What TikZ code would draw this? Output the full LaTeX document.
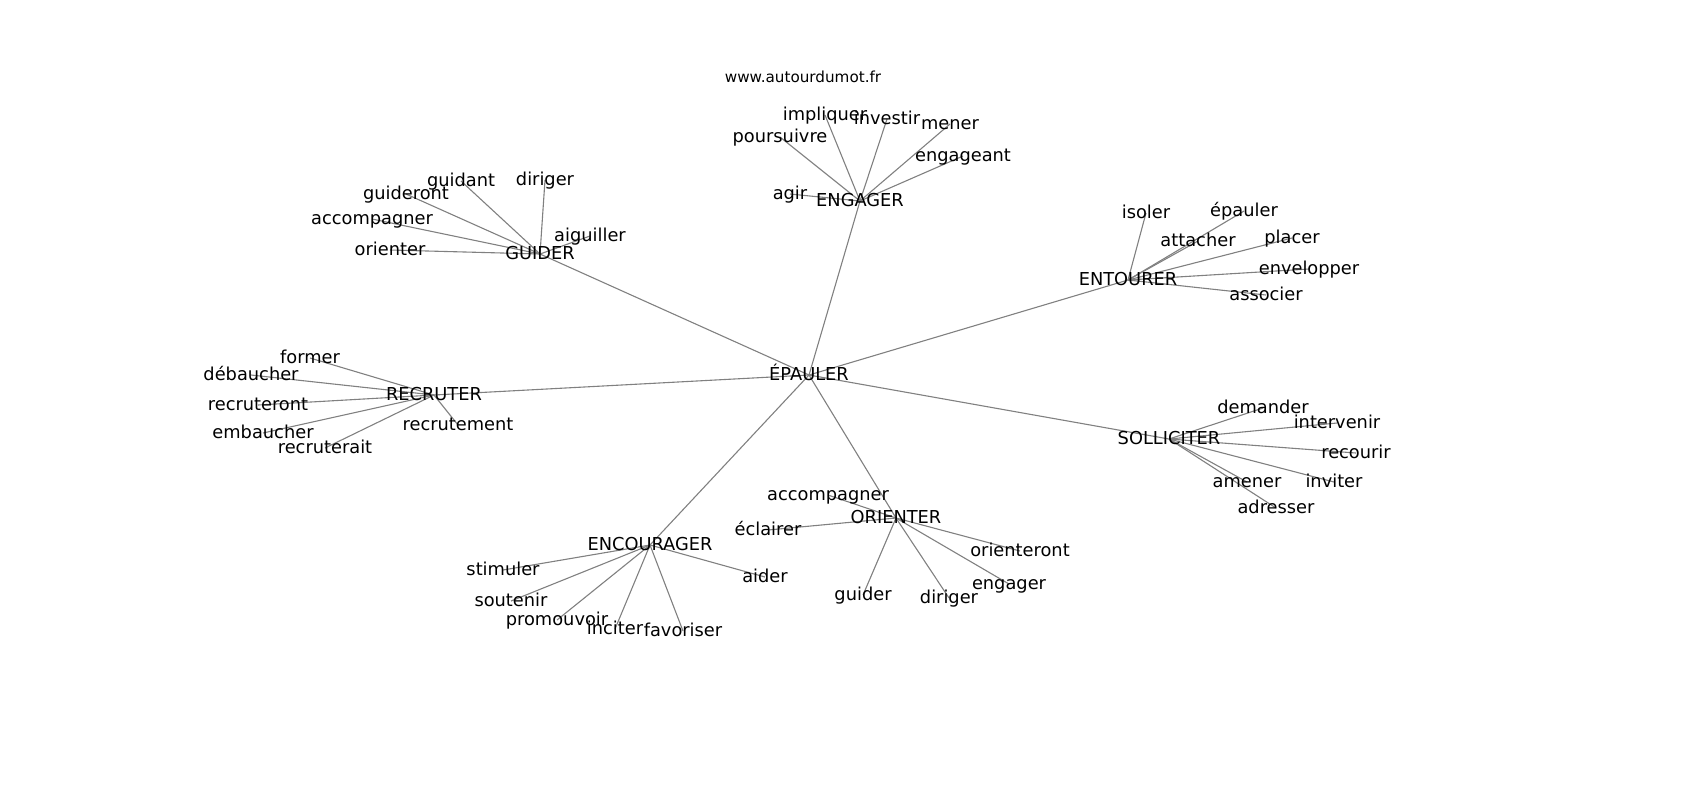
\documentclass[tikz,border=0pt]{standalone}
\usepackage{fontspec}
\setmainfont{DejaVu Sans}
\begin{document}
\begin{tikzpicture}[x=0.5pt,y=-0.5pt,
  lbl/.style={inner sep=0pt,anchor=center,text height=0.76em,text depth=0.24em,font=\fontsize{8.9pt}{10.5pt}\selectfont},
  edge/.style={draw=gray,line width=0.55pt}]
\useasboundingbox (0,0) rectangle (1700,800);
% coordinates of nodes
\coordinate (E) at (809,375);
\coordinate (ENG) at (860,201);
\coordinate (GUI) at (540,254);
\coordinate (ENT) at (1128,280);
\coordinate (REC) at (434,395);
\coordinate (SOL) at (1169,439);
\coordinate (ORI) at (896,518);
\coordinate (ENC) at (650,545);
% ENGAGER leaves
\coordinate (agir) at (790,194);
\coordinate (poursuivre) at (780,137);
\coordinate (impliquer) at (825,115);
\coordinate (investir) at (887,119);
\coordinate (mener) at (950,124);
\coordinate (engageant) at (963,156);
% GUIDER leaves
\coordinate (guidant) at (461,181);
\coordinate (dirigerG) at (545,180);
\coordinate (guideront) at (406,194);
\coordinate (accompagnerG) at (372,219);
\coordinate (orienterG) at (390,250);
\coordinate (aiguiller) at (590,236);
% ENTOURER leaves
\coordinate (isoler) at (1146,213);
\coordinate (epauler) at (1244,211);
\coordinate (attacher) at (1198,241);
\coordinate (placer) at (1292,238);
\coordinate (envelopper) at (1309,269);
\coordinate (associer) at (1266,295);
% RECRUTER leaves
\coordinate (former) at (310,358);
\coordinate (debaucher) at (251,375);
\coordinate (recruteront) at (258,405);
\coordinate (embaucher) at (263,433);
\coordinate (recruterait) at (325,448);
\coordinate (recrutement) at (458,425);
% SOLLICITER leaves
\coordinate (demander) at (1263,408);
\coordinate (intervenir) at (1337,423);
\coordinate (recourir) at (1356,453);
\coordinate (inviter) at (1334,482);
\coordinate (amener) at (1247,482);
\coordinate (adresser) at (1276,508);
% ORIENTER leaves
\coordinate (accompagnerO) at (828,495);
\coordinate (eclairer) at (768,530);
\coordinate (orienteront) at (1020,551);
\coordinate (engager) at (1009,584);
\coordinate (dirigerO) at (949,598);
\coordinate (guiderO) at (863,595);
% ENCOURAGER leaves
\coordinate (stimuler) at (503,570);
\coordinate (soutenir) at (511,601);
\coordinate (promouvoir) at (557,620);
\coordinate (inciter) at (615,629);
\coordinate (favoriser) at (683,631);
\coordinate (aider) at (765,577);
% edges
\foreach \h in {ENG,GUI,ENT,REC,SOL,ORI,ENC} \draw[edge] (E) -- (\h);
\foreach \l in {agir,poursuivre,impliquer,investir,mener,engageant} \draw[edge] (ENG) -- (\l);
\foreach \l in {guidant,dirigerG,guideront,accompagnerG,orienterG,aiguiller} \draw[edge] (GUI) -- (\l);
\foreach \l in {isoler,epauler,attacher,placer,envelopper,associer} \draw[edge] (ENT) -- (\l);
\foreach \l in {former,debaucher,recruteront,embaucher,recruterait,recrutement} \draw[edge] (REC) -- (\l);
\foreach \l in {demander,intervenir,recourir,inviter,amener,adresser} \draw[edge] (SOL) -- (\l);
\foreach \l in {accompagnerO,eclairer,orienteront,engager,dirigerO,guiderO} \draw[edge] (ORI) -- (\l);
\foreach \l in {stimuler,soutenir,promouvoir,inciter,favoriser,aider} \draw[edge] (ENC) -- (\l);
% labels
\node[lbl] (tE) at (E) {ÉPAULER};
\node[lbl] (tENG) at (ENG) {ENGAGER};
\node[lbl] (tGUI) at (GUI) {GUIDER};
\node[lbl] (tENT) at (ENT) {ENTOURER};
\node[lbl] (tREC) at (REC) {RECRUTER};
\node[lbl] (tSOL) at (SOL) {SOLLICITER};
\node[lbl] (tORI) at (ORI) {ORIENTER};
\node[lbl] (tENC) at (ENC) {ENCOURAGER};
\node[lbl] at (agir) {agir};
\node[lbl] at (poursuivre) {poursuivre};
\node[lbl] at (impliquer) {impliquer};
\node[lbl] at (investir) {investir};
\node[lbl] at (mener) {mener};
\node[lbl] at (engageant) {engageant};
\node[lbl] at (guidant) {guidant};
\node[lbl] at (dirigerG) {diriger};
\node[lbl] at (guideront) {guideront};
\node[lbl] at (accompagnerG) {accompagner};
\node[lbl] at (orienterG) {orienter};
\node[lbl] at (aiguiller) {aiguiller};
\node[lbl] at (isoler) {isoler};
\node[lbl] at (epauler) {épauler};
\node[lbl] at (attacher) {attacher};
\node[lbl] at (placer) {placer};
\node[lbl] at (envelopper) {envelopper};
\node[lbl] at (associer) {associer};
\node[lbl] at (former) {former};
\node[lbl] at (debaucher) {débaucher};
\node[lbl] at (recruteront) {recruteront};
\node[lbl] at (embaucher) {embaucher};
\node[lbl] at (recruterait) {recruterait};
\node[lbl] at (recrutement) {recrutement};
\node[lbl] at (demander) {demander};
\node[lbl] at (intervenir) {intervenir};
\node[lbl] at (recourir) {recourir};
\node[lbl] at (inviter) {inviter};
\node[lbl] at (amener) {amener};
\node[lbl] at (adresser) {adresser};
\node[lbl] at (accompagnerO) {accompagner};
\node[lbl] at (eclairer) {éclairer};
\node[lbl] at (orienteront) {orienteront};
\node[lbl] at (engager) {engager};
\node[lbl] at (dirigerO) {diriger};
\node[lbl] at (guiderO) {guider};
\node[lbl] at (stimuler) {stimuler};
\node[lbl] at (soutenir) {soutenir};
\node[lbl] at (promouvoir) {promouvoir};
\node[lbl] at (inciter) {inciter};
\node[lbl] at (favoriser) {favoriser};
\node[lbl] at (aider) {aider};
\node[lbl,font=\fontsize{7.6pt}{9pt}\selectfont] (url) at (803,77) {www.autourdumot.fr};
\end{tikzpicture}
\end{document}
